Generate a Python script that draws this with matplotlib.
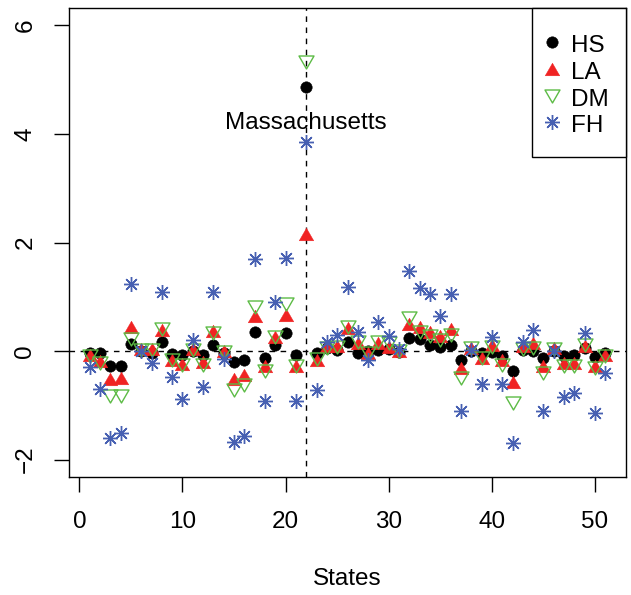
import matplotlib
matplotlib.use("Agg")
import matplotlib.pyplot as plt
from matplotlib.path import Path
from matplotlib.patches import Rectangle

plt.rcParams['font.family'] = ['Liberation Sans', 'DejaVu Sans']

states = list(range(1, 52))

HS = [-0.04, -0.04, -0.28, -0.28, 0.13, 0.00, -0.03, 0.16, -0.05, -0.07,
      0.00, -0.08, 0.12, -0.03, -0.21, -0.16, 0.35, -0.13, 0.11, 0.33,
      -0.07, 4.87, -0.03, 0.06, 0.02, 0.16, -0.03, 0.00, 0.02, 0.03,
      -0.02, 0.24, 0.22, 0.12, 0.08, 0.12, -0.16, 0.00, -0.04, -0.01,
      -0.09, -0.36, 0.02, 0.00, -0.13, 0.00, -0.09, -0.08, 0.06, -0.11,
      -0.03]
LA = [-0.08, -0.19, -0.51, -0.50, 0.44, 0.04, 0.04, 0.38, -0.17, -0.23,
      0.03, -0.20, 0.37, 0.01, -0.52, -0.44, 0.64, -0.28, 0.26, 0.66,
      -0.27, 2.15, -0.16, 0.09, 0.09, 0.43, 0.15, -0.03, 0.15, 0.08,
      0.01, 0.49, 0.45, 0.35, 0.28, 0.40, -0.31, 0.06, -0.13, 0.11,
      -0.16, -0.57, 0.10, 0.14, -0.28, 0.05, -0.22, -0.22, 0.10, -0.27,
      -0.07]
DM = [-0.09, -0.22, -0.83, -0.83, 0.22, 0.02, 0.02, 0.40, -0.17, -0.26,
      0.02, -0.26, 0.33, -0.02, -0.71, -0.62, 0.82, -0.37, 0.25, 0.86,
      -0.28, 5.33, -0.15, 0.06, 0.07, 0.45, 0.16, -0.03, 0.16, 0.15,
      0.00, 0.61, 0.36, 0.28, 0.20, 0.30, -0.49, 0.05, -0.13, 0.08,
      -0.25, -0.95, 0.03, 0.06, -0.40, 0.04, -0.27, -0.27, 0.11, -0.31,
      -0.09]
FH = [-0.30, -0.70, -1.60, -1.51, 1.23, 0.00, -0.22, 1.08, -0.48, -0.88,
      0.21, -0.66, 1.08, -0.14, -1.68, -1.57, 1.70, -0.92, 0.90, 1.72,
      -0.92, 3.85, -0.71, 0.16, 0.30, 1.18, 0.36, -0.16, 0.53, 0.27,
      0.04, 1.48, 1.16, 1.06, 0.65, 1.06, -1.11, 0.02, -0.60, 0.26,
      -0.61, -1.69, 0.16, 0.38, -1.10, 0.00, -0.85, -0.77, 0.33, -1.14,
      -0.40]

labels = ['HS', 'LA', 'DM', 'FH']
xticks = [0, 10, 20, 30, 40, 50]
yticks = [-2, 0, 2, 4, 6]
highlight_state = 22
highlight_name = 'Massachusetts'

RED = '#F02323'
GREEN = '#5CBB45'
BLUE = '#4760B2'
FS = 17.5

W, H = 631, 595
fig = plt.figure(figsize=(W / 100, H / 100), dpi=100)
L, R, T, B = 69, 626, 8, 477
AW, AH = R - L, B - T
ax = fig.add_axes([L / W, (H - B) / H, AW / W, AH / H])
ax.set_xlim(-1, 53)
ax.set_ylim(-2.32, 6.32)

ax.axhline(0, color='black', lw=1.0, ls=(0, (4, 4)), zorder=1)
ax.axvline(highlight_state, color='black', lw=1.0, ls=(0, (4, 4)), zorder=1)

codes = [Path.MOVETO, Path.LINETO, Path.LINETO, Path.CLOSEPOLY]
tri_up = Path([(0, 0.866), (-1, -0.866), (1, -0.866), (0, 0.866)], codes)
tri_dn = Path([(0, -0.866), (-1, 0.866), (1, 0.866), (0, -0.866)], codes)

ax.plot(states, HS, ls='none', marker='o', ms=8.2, mfc='black', mec='black',
        mew=0.4, label=labels[0], zorder=2)
ax.plot(states, LA, ls='none', marker=tri_up, ms=10.5, mfc=RED, mec=RED,
        mew=0.3, label=labels[1], zorder=3)
ax.plot(states, DM, ls='none', marker=tri_dn, ms=10.8, mfc='none', mec=GREEN,
        mew=1.0, label=labels[2], zorder=4)
ax.plot(states, FH, ls='none', marker=(8, 2, 0), ms=10.8, color=BLUE,
        mew=1.0, label=labels[3], zorder=5)

ax.text(highlight_state, 4.2, highlight_name, ha='center', va='center',
        fontsize=FS, zorder=6)

ax.set_xticks(xticks)
ax.set_yticks(yticks)
ax.tick_params(axis='both', direction='out', length=10.5, width=1.0,
               labelsize=FS, color='black')
ax.tick_params(axis='x', pad=14)
ax.tick_params(axis='y', pad=13, labelrotation=90)
for t in ax.get_yticklabels():
    t.set_va('center')
for s in ax.spines.values():
    s.set_linewidth(1.0)
    s.set_color('black')

ax.set_xlabel('States', fontsize=FS, labelpad=25.5)

# legend frame (pixel box 531.5..626 x 8..157)
fx0 = (531.5 - L) / AW
fy0 = (B - 157) / AH
ax.add_patch(Rectangle((fx0, fy0), 1 - fx0, 1 - fy0, transform=ax.transAxes,
                       facecolor='white', edgecolor='black', lw=1.0,
                       zorder=7, clip_on=False))

leg = ax.legend(loc='upper left',
                bbox_to_anchor=((552 - L) / AW, (B - 32.5) / AH),
                borderaxespad=0, frameon=False, fontsize=FS,
                handlelength=0, handletextpad=0.78, handleheight=1.08,
                labelspacing=0.075, borderpad=0, numpoints=1)
leg.set_zorder(8)

fig.savefig('out.png', dpi=100)
